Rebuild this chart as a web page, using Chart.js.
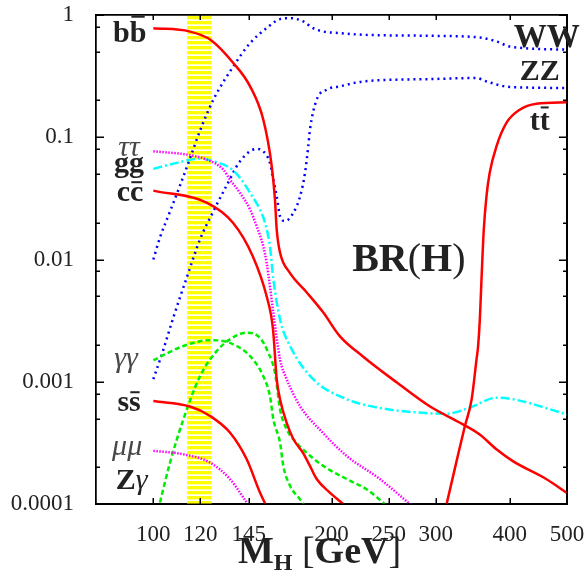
<!DOCTYPE html>
<html>
<head>
<meta charset="utf-8">
<script src="https://cdn.jsdelivr.net/npm/chart.js@4"></script>
<style>
  body { margin: 0; background: #fff; }
  #wrap { width: 588px; height: 571px; }
</style>
</head>
<body>
<div id="wrap"><canvas id="brChart"></canvas></div>
<script>
// Higgs mass grid (GeV) and branching ratios
const xTicks = [100, 120, 145, 200, 250, 300, 400, 500];
const yTicks = [0.0001, 0.001, 0.01, 0.1, 1];
const yTickLabels = ['0.0001', '0.001', '0.01', '0.1', '1'];
const yMinorMant = [2, 5, 8];
const band = [114, 125.5];

const M_bb = [100, 115, 125, 136.5, 145.7, 153.4, 158.5, 160.5, 161.6, 163.7, 170, 181.5, 193.6, 206.7, 226, 257.6, 293, 333, 356, 380, 405, 461, 500];
const BR_bb = [0.78, 0.735, 0.625, 0.405, 0.261, 0.139, 0.058, 0.031, 0.0176, 0.0114, 0.0078, 0.0054, 0.0037, 0.00235, 0.00161, 0.00099, 0.00063, 0.00045, 0.00037, 0.00028, 0.000224, 0.00016, 0.000123];

const M_cc = [100, 123, 136.3, 147.3, 155.4, 159.3, 161.6, 163.7, 168, 172.4, 179.2, 183.9, 188.8, 198.7, 209.3];
const BR_cc = [0.0366, 0.0292, 0.02, 0.0106, 0.005, 0.00268, 0.00105, 0.00072, 0.00046, 0.00034, 0.00026, 0.000205, 0.00016, 0.000124, 0.0001];

const M_ss = [100, 115.3, 124.7, 134.7, 143.8, 151.4, 154.6];
const BR_ss = [0.000695, 0.000627, 0.000525, 0.000384, 0.000232, 0.000124, 0.0001];

const M_tt = [313, 325, 336, 345, 351.6, 353.8, 356.2, 358.5, 361.7, 365.5, 370.2, 380, 395, 416, 444, 500];
const BR_tt = [0.0001, 0.000219, 0.000432, 0.000717, 0.00152, 0.00196, 0.00324, 0.00687, 0.0176, 0.0329, 0.0514, 0.0843, 0.131, 0.168, 0.188, 0.193];

const M_WW = [100, 102.6, 106.7, 110.9, 115.3, 119.9, 126.3, 136.5, 145.7, 155.4, 163.7, 170.2, 179.2, 186.2, 193.6, 206.7, 226.2, 293.2, 356, 380, 400, 500];
const BR_WW = [0.01, 0.0151, 0.0247, 0.0402, 0.0669, 0.113, 0.203, 0.38, 0.589, 0.782, 0.926, 0.943, 0.885, 0.78, 0.733, 0.711, 0.689, 0.676, 0.655, 0.608, 0.553, 0.52];

const M_ZZ = [100, 104, 108.1, 113.9, 119.9, 126.3, 133, 140.1, 149.5, 153.4, 157.4, 159.5, 161.6, 163.7, 166.9, 172.4, 177, 180.4, 182.7, 183.9, 188.8, 196.3, 206.7, 226.2, 293.2, 351.6, 365.5, 400.2, 500];
const BR_ZZ = [0.00105, 0.00184, 0.00336, 0.00713, 0.0146, 0.0248, 0.0403, 0.0636, 0.0802, 0.0767, 0.0617, 0.045, 0.0329, 0.0226, 0.0206, 0.0241, 0.0329, 0.051, 0.0843, 0.115, 0.203, 0.245, 0.261, 0.286, 0.299, 0.305, 0.286, 0.258, 0.253];

const M_tau = [100, 113.9, 123.1, 131.3, 134.7, 140.1, 145.7, 149.5, 153.4, 155.4, 159.5, 163.7, 168, 177, 193.6, 212.2, 241.5, 271.3];
const BR_tau = [0.0767, 0.0721, 0.0656, 0.0544, 0.045, 0.0351, 0.0256, 0.0187, 0.0128, 0.0094, 0.00367, 0.00152, 0.00105, 0.00063, 0.00038, 0.000247, 0.00016, 0.0001];

const M_mu = [100, 112.4, 124.7, 134.7, 143.8];
const BR_mu = [0.000272, 0.000255, 0.000218, 0.00016, 0.000103];

const M_gg = [100, 109.5, 119.9, 126.3, 134.7, 140.1, 145.7, 151.4, 154.4, 157.4, 159.5, 163.7, 170.2, 186.2, 212.2, 241.5, 280, 312.8, 342.4, 380, 405, 500];
const BR_gg = [0.0551, 0.0617, 0.0669, 0.0636, 0.0561, 0.0465, 0.0351, 0.0256, 0.02, 0.0128, 0.0069, 0.00323, 0.00196, 0.00105, 0.00072, 0.00061, 0.00056, 0.000548, 0.000614, 0.00074, 0.00072, 0.00054];

const M_gamgam = [100, 112.4, 124.7, 131.3, 138.3, 145.7, 153.4, 157.4, 159.5, 163.7, 165.8, 170.2, 177, 180.4];
const BR_gamgam = [0.0015, 0.00196, 0.00219, 0.00215, 0.00196, 0.00162, 0.00111, 0.000764, 0.000493, 0.000318, 0.000205, 0.000141, 0.000109, 0.000096];

const M_Zgam = [102.6, 106.7, 112.4, 119.9, 127.9, 134.7, 143.8, 151.4, 156.4, 160.5, 163.7, 168, 172.4, 181.5, 193.6, 212.2, 229.3, 246.1];
const BR_Zgam = [0.000103, 0.000218, 0.000493, 0.00111, 0.00178, 0.00222, 0.00252, 0.00229, 0.00173, 0.00119, 0.000595, 0.000408, 0.000338, 0.000263, 0.000205, 0.00016, 0.000132, 0.0001];

const pts = (m, br) => m.map((x, i) => ({ x: x, y: br[i] }));

const red = { borderColor: '#ff0000', borderWidth: 2.5 };
const blue = { borderColor: '#0000ff', borderWidth: 2.5, borderDash: [2, 4] };
const magenta = { borderColor: '#ff00ff', borderWidth: 2.5, borderDash: [1.5, 1.5] };
const cyan = { borderColor: '#00ffff', borderWidth: 2.5, borderDash: [9, 3, 2, 3] };
const green = { borderColor: '#00ee00', borderWidth: 2.5, borderDash: [5, 3] };

const series = [
  ['bb', M_bb, BR_bb, red],
  ['cc', M_cc, BR_cc, red],
  ['ss', M_ss, BR_ss, red],
  ['tt', M_tt, BR_tt, red],
  ['tautau', M_tau, BR_tau, magenta],
  ['mumu', M_mu, BR_mu, magenta],
  ['gg', M_gg, BR_gg, cyan],
  ['gamgam', M_gamgam, BR_gamgam, green],
  ['Zgam', M_Zgam, BR_Zgam, green],
  ['WW', M_WW, BR_WW, blue],
  ['ZZ', M_ZZ, BR_ZZ, blue],
];

const SERIF = '"Liberation Serif", "Times New Roman", serif';
const TXT = '#222';
const GREEK = '#484848';

// labels placed in data coordinates (mass, BR) at the text baseline
// bar: height of the overbar above the baseline, as a fraction of the font size
const labels = [
  { m: 91.2, br: 0.607, parts: [{ t: 'b' }, { t: 'b', bar: 0.86 }] },
  { m: 91.0, br: 0.0698, parts: [{ t: 'ττ', it: true }] },
  { m: 91.0, br: 0.0524, parts: [{ t: 'gg' }] },
  { m: 91.3, br: 0.0301, parts: [{ t: 'c' }, { t: 'c', bar: 0.66 }] },
  { m: 89.9, br: 0.00131, parts: [{ t: 'γγ', it: true }] },
  { m: 91.0, br: 0.000576, parts: [{ t: 's' }, { t: 's', bar: 0.66 }] },
  { m: 90.3, br: 0.000251, parts: [{ t: 'μμ', it: true }] },
  { m: 91.9, br: 0.000132, parts: [{ t: 'Z' }, { t: 'γ', it: true, color: TXT }] },
  { m: 462, br: 0.55, size: 33, parts: [{ t: 'WW' }] },
  { m: 449.6, br: 0.296, parts: [{ t: 'ZZ' }] },
  { m: 449.6, br: 0.115, parts: [{ t: 't' }, { t: 't', bar: 0.78 }] },
  { m: 270.2, br: 0.00798, size: 40, parts: [{ t: 'BR' }, { t: '(', reg: true }, { t: 'H' }, { t: ')', reg: true }] },
];

function fontOf(p, size) {
  if (p.it) return 'italic ' + size + 'px ' + SERIF;
  if (p.reg) return size + 'px ' + SERIF;
  return 'bold ' + size + 'px ' + SERIF;
}

function drawParts(ctx, parts, cx, baseline, size) {
  let total = 0;
  parts.forEach(p => {
    ctx.font = fontOf(p, p.size || size);
    p._w = ctx.measureText(p.t).width;
    total += p._w;
  });
  let x = cx - total / 2;
  parts.forEach(p => {
    const s = p.size || size;
    ctx.font = fontOf(p, s);
    ctx.fillStyle = p.color || (p.it ? GREEK : TXT);
    ctx.fillText(p.t, x, baseline + (p.dy || 0));
    if (p.bar) {
      ctx.fillRect(x + p._w * 0.1, baseline - s * p.bar, p._w * 0.8, 2);
    }
    x += p._w;
  });
}

const decorPlugin = {
  id: 'decor',
  beforeDatasetsDraw(chart) {
    const { ctx, chartArea: a, scales: { x } } = chart;
    const x0 = x.getPixelForValue(band[0]);
    const x1 = x.getPixelForValue(band[1]);
    ctx.save();
    for (let y = a.top + 1; y < a.bottom; y += 5) {
      ctx.fillStyle = '#ffff00';
      ctx.fillRect(x0, y, x1 - x0, Math.min(3, a.bottom - y));
      ctx.fillStyle = '#ffffa8';
      ctx.fillRect(x0, y + 3, x1 - x0, 1);
    }
    ctx.restore();
  },
  afterDraw(chart) {
    const { ctx, chartArea: a, scales: { x, y } } = chart;
    const L = Math.round(a.left), R = Math.round(a.right);
    const T = Math.round(a.top), B = Math.round(a.bottom);
    ctx.save();
    ctx.setLineDash([]);
    ctx.globalAlpha = 1;
    ctx.globalCompositeOperation = 'source-over';
    ctx.fillStyle = '#000';
    // frame
    ctx.fillRect(L - 1, T - 1, R - L + 2, 1.5);
    ctx.fillRect(L - 1, B - 0.5, R - L + 2, 1.5);
    ctx.fillRect(L - 1, T - 1, 1.5, B - T + 2);
    ctx.fillRect(R - 0.5, T - 1, 1.5, B - T + 2);
    // inward ticks
    xTicks.forEach(v => {
      const px = Math.round(x.getPixelForValue(v));
      ctx.fillRect(px - 0.5, B - 6, 1.5, 6);
      ctx.fillRect(px - 0.5, T, 1.5, 5);
    });
    yTicks.forEach(v => {
      const py = Math.round(y.getPixelForValue(v));
      ctx.fillRect(L, py - 0.5, 8, 1.5);
      ctx.fillRect(R - 8, py - 0.5, 8, 1.5);
      if (v < 1) {
        yMinorMant.forEach(mn => {
          const q = Math.round(y.getPixelForValue(v * mn));
          ctx.fillRect(L, q - 0.5, 4, 1.5);
          ctx.fillRect(R - 4, q - 0.5, 4, 1.5);
        });
      }
    });

    ctx.textAlign = 'left';
    ctx.textBaseline = 'alphabetic';
    labels.forEach(l => {
      drawParts(ctx, l.parts, x.getPixelForValue(l.m), y.getPixelForValue(l.br), l.size || 30);
    });

    // axis title M_H [GeV]
    const cx = (a.left + a.right) / 2 - 12;
    drawParts(ctx, [
      { t: 'M' },
      { t: 'H', size: 24, dy: 7 },
      { t: ' [', reg: true },
      { t: 'GeV' },
      { t: ']', reg: true },
    ], cx, chart.height - 8, 38);
    ctx.restore();
  }
};

const hiddenAxis = (pos, min, max) => ({
  type: 'logarithmic',
  position: pos,
  min: min,
  max: max,
  grid: { display: false },
  border: { display: true, color: '#000', width: 1.5 },
  ticks: { display: false },
  afterFit: s => { if (pos === 'top') s.height = 0; else s.width = 0; },
});

const ctx = document.getElementById('brChart').getContext('2d');

new Chart(ctx, {
  type: 'line',
  data: {
    datasets: series.map(([name, m, br, style]) => Object.assign({
      label: name,
      data: pts(m, br),
      pointRadius: 0,
      fill: false,
      cubicInterpolationMode: 'monotone',
      clip: 0,
    }, style)),
  },
  options: {
    responsive: true,
    maintainAspectRatio: false,
    animation: false,
    layout: { padding: { top: 15, right: 21, left: 0, bottom: 0 } },
    plugins: { legend: { display: false }, tooltip: { enabled: false } },
    scales: {
      x: {
        type: 'logarithmic',
        min: 80,
        max: 500,
        grid: { display: false },
        border: { display: true, color: '#000', width: 1.5 },
        afterBuildTicks: s => { s.ticks = xTicks.map(v => ({ value: v })); },
        afterFit: s => { s.height = 67; s.paddingLeft = 0; s.paddingRight = 0; },
        ticks: {
          autoSkip: false,
          maxRotation: 0,
          padding: 9,
          color: TXT,
          font: { family: SERIF, size: 23 },
          callback: v => String(v),
        },
      },
      y: {
        type: 'logarithmic',
        min: 0.0001,
        max: 1,
        grid: { display: false },
        border: { display: true, color: '#000', width: 1.5 },
        afterBuildTicks: s => { s.ticks = yTicks.map(v => ({ value: v })); },
        afterFit: s => { s.width = 96; s.paddingTop = 0; s.paddingBottom = 0; },
        ticks: {
          padding: 14,
          color: TXT,
          font: { family: SERIF, size: 23 },
          callback: v => yTickLabels[yTicks.indexOf(v)],
        },
      },
      xTop: hiddenAxis('top', 80, 500),
      yRight: hiddenAxis('right', 0.0001, 1),
    },
  },
  plugins: [decorPlugin],
});
</script>
</body>
</html>
